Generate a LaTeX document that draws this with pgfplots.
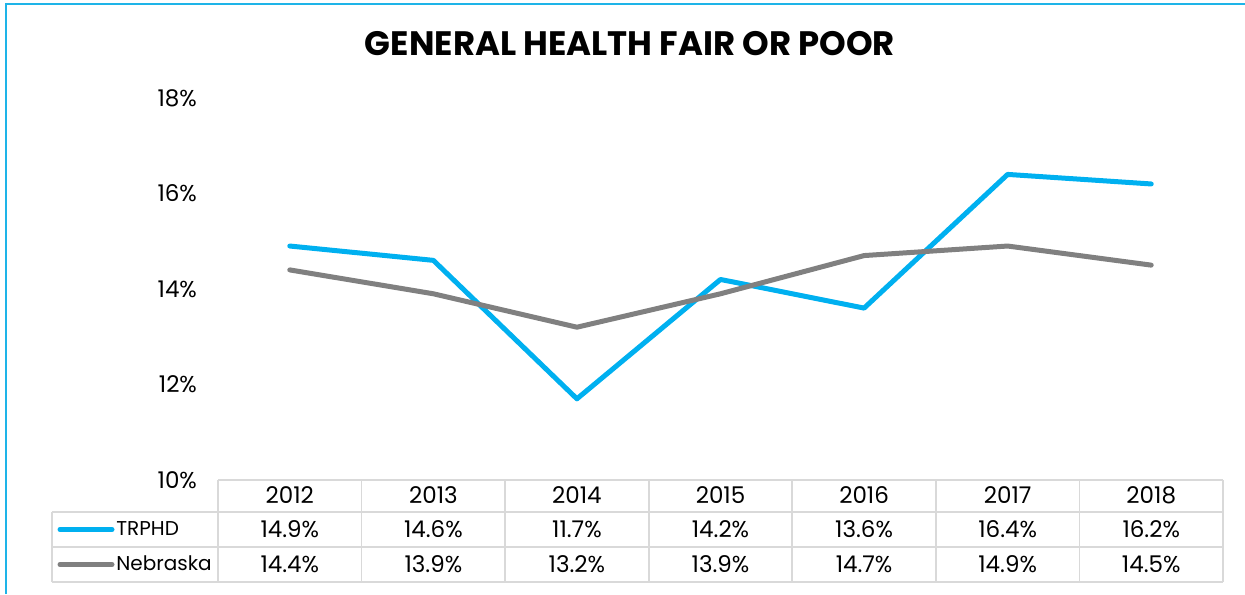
\documentclass[border=0pt]{standalone}
\usepackage{fontspec}
\setmainfont{Poppins}
\usepackage{pgfplots}
\usepackage{graphicx}
\pgfplotsset{compat=1.18}
\definecolor{trphd}{RGB}{0,176,240}
\definecolor{nebr}{RGB}{128,128,128}
\definecolor{frame}{RGB}{30,180,232}
\definecolor{grid}{RGB}{217,217,217}
\begin{document}
\begin{tikzpicture}
\path[use as bounding box] (0,0) rectangle (622.5pt,297pt);
\begin{axis}[
  at={(109pt,57pt)}, anchor=south west,
  scale only axis, width=502.5pt, height=191pt,
  xmin=-0.5, xmax=6.5, ymin=10, ymax=18,
  axis line style={draw=none}, tick style={draw=none},
  xtick=\empty,
  ytick={10,12,14,16,18},
  yticklabels={10\%,12\%,14\%,16\%,18\%},
  yticklabel style={font=\fontsize{11.5}{13}\selectfont, xshift=-7pt},
  clip=false,
]
\addplot[trphd, line width=2.5pt, line join=round, line cap=round] coordinates {
 (0,14.9) (1,14.6) (2,11.7) (3,14.2) (4,13.6) (5,16.4) (6,16.2)};
\addplot[nebr, line width=2.5pt, line join=round, line cap=round] coordinates {
 (0,14.4) (1,13.9) (2,13.2) (3,13.9) (4,14.7) (5,14.9) (6,14.5)};
\end{axis}
\begin{scope}[yshift=297pt, x=0.5pt, y=-0.5pt]
  % frame
  \draw[frame, line width=0.9pt] (6,594) -- (6,4) -- (1245,4);
  % title
  \node at (630,44) {\resizebox{265pt}{!}{\bfseries GENERAL HEALTH FAIR OR POOR}};
  % table grid
  \begin{scope}[grid, line width=0.9pt]
    \draw (218,480) -- (1223,480);
    \draw (52,512) -- (1223,512);
    \draw (52,547) -- (1223,547);
    \draw (52,582) -- (1223,582);
    \draw (52,512) -- (52,582);
    \foreach \i in {0,...,7} {\draw ({218+\i*143.57},480) -- ({218+\i*143.57},582);}
  \end{scope}
  % legend keys
  \draw[trphd, line width=2.5pt, line cap=round] (60,529.5) -- (112,529.5);
  \draw[nebr, line width=2.5pt, line cap=round] (60,564.5) -- (112,564.5);
  \begin{scope}[every node/.style={font=\fontsize{11.5}{13}\selectfont, inner sep=0pt}]
  \node[anchor=base west, font=\fontsize{10}{12}\selectfont] at (116,535.5) {TRPHD};
  \node[anchor=base west, font=\fontsize{10}{12}\selectfont] at (116,570.5) {Nebraska};
  \foreach \y [count=\i from 0] in {2012,2013,2014,2015,2016,2017,2018}
    \node[anchor=base] at ({289.8+\i*143.57},503) {\y};
  \foreach \v [count=\i from 0] in {14.9,14.6,11.7,14.2,13.6,16.4,16.2}
    \node[anchor=base] at ({289.8+\i*143.57},537) {\v\%};
  \foreach \v [count=\i from 0] in {14.4,13.9,13.2,13.9,14.7,14.9,14.5}
    \node[anchor=base] at ({289.8+\i*143.57},572) {\v\%};
  \end{scope}
\end{scope}
\end{tikzpicture}
\end{document}
